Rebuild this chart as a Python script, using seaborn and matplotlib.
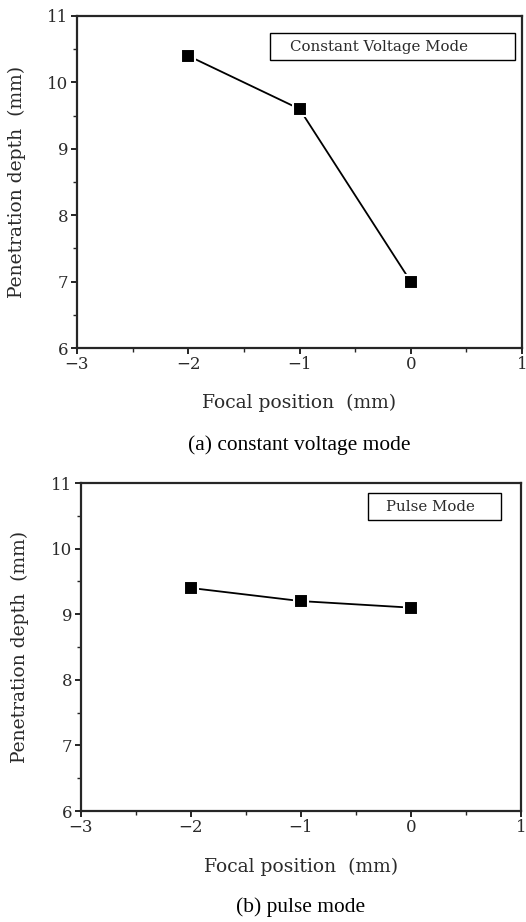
import matplotlib
matplotlib.use("Agg")
import matplotlib.pyplot as plt
import seaborn as sns
import pandas as pd
from matplotlib.ticker import MultipleLocator
from matplotlib.patches import Rectangle

focal = [-2, -1, 0]
depth_cv = [10.4, 9.6, 7.0]
depth_pulse = [9.4, 9.2, 9.1]
x_ticks = [-3, -2, -1, 0, 1]
y_ticks = [6, 7, 8, 9, 10, 11]

sns.set_style("ticks")
plt.rcParams['font.family'] = ['DejaVu Serif', 'DejaVu Sans']

W, H = 526, 922
fig = plt.figure(figsize=(W / 100, H / 100), dpi=100)

def px_axes(l, t, r, b):
    return fig.add_axes([l / W, 1 - b / H, (r - l) / W, (b - t) / H])

panels = [
    dict(box=(77, 16, 522, 348), y=depth_cv, label="Constant Voltage Mode",
         lab_box=(270, 33, 515, 60), lab_x=379, ylab_x=17,
         xlab_y=403, cap_y=445, cap="(a) constant voltage mode"),
    dict(box=(80.5, 483, 521, 811), y=depth_pulse, label="Pulse Mode",
         lab_box=(368, 493, 501, 520), lab_x=430, ylab_x=20,
         xlab_y=867, cap_y=907, cap="(b) pulse mode"),
]

txtc = "#2a2a2a"
for p in panels:
    l, t, r, b = p["box"]
    ax = px_axes(l, t, r, b)
    df = pd.DataFrame({"x": focal, "y": p["y"]})
    sns.lineplot(data=df, x="x", y="y", ax=ax, color="black", lw=1.3,
                 marker="s", markersize=10, markerfacecolor="black",
                 markeredgecolor="white", markeredgewidth=1.5)
    ax.set_xlim(-3, 1)
    ax.set_ylim(6, 11)
    ax.set_xticks(x_ticks)
    ax.set_yticks(y_ticks)
    ax.set_xticklabels(["\u22123", "\u22122", "\u22121", "0", "1"])
    ax.xaxis.set_minor_locator(MultipleLocator(0.5))
    ax.yaxis.set_minor_locator(MultipleLocator(0.5))
    ax.tick_params(which="major", direction="out", length=4, width=1.2,
                   labelsize=12, colors="black", labelcolor=txtc, pad=2)
    ax.tick_params(which="minor", direction="out", length=3, width=1.0)
    for s in ax.spines.values():
        s.set_linewidth(1.6)
        s.set_visible(True)
    ax.set_xlabel("")
    ax.set_ylabel("")
    fig.text(p["ylab_x"] / W, 1 - (t + b) / 2 / H, "Penetration depth  (mm)",
             rotation=90, ha="center", va="center", fontsize=13.5, color=txtc)
    bl, bt, br, bb = p["lab_box"]
    fig.patches.append(Rectangle((bl / W, 1 - bb / H), (br - bl) / W, (bb - bt) / H,
                                 transform=fig.transFigure, fill=False,
                                 edgecolor="black", lw=1.0))
    fig.text(p["lab_x"] / W, 1 - (bt + bb) / 2 / H, p["label"], ha="center",
             va="center", fontsize=10.8, color=txtc)
    fig.text((l + r) / 2 / W, 1 - p["xlab_y"] / H, "Focal position  (mm)",
             ha="center", va="center", fontsize=13.5, color=txtc)
    fig.text((l + r) / 2 / W, 1 - p["cap_y"] / H, p["cap"], ha="center",
             va="center", fontsize=15.4, color="black", family="Liberation Serif")

fig.savefig("out.png", dpi=100)
